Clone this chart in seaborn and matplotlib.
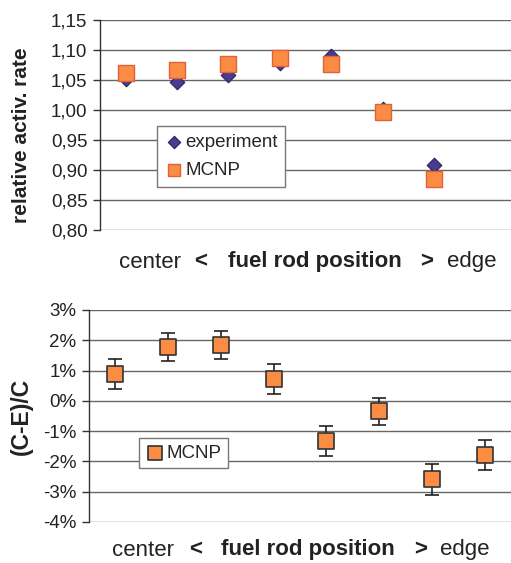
import matplotlib
matplotlib.use("Agg")
import matplotlib.pyplot as plt
import seaborn as sns
import pandas as pd
import numpy as np
from matplotlib.ticker import FuncFormatter

sns.set_theme(style="white")
plt.rcParams['font.family'] = ['Liberation Sans', 'DejaVu Sans']

# ---- data ----
pos_top = [0, 1, 2, 3, 4, 5, 6]
experiment = [1.051, 1.047, 1.058, 1.079, 1.090, 1.001, 0.908]
mcnp_top = [1.061, 1.066, 1.076, 1.086, 1.076, 0.996, 0.885]

pos_bot = [0, 1, 2, 3, 4, 5, 6, 7]
diff_pct = [0.88, 1.79, 1.85, 0.73, -1.32, -0.35, -2.59, -1.78]
diff_err = [0.50, 0.46, 0.46, 0.49, 0.50, 0.46, 0.51, 0.50]

top_ticks = [0.80, 0.85, 0.90, 0.95, 1.00, 1.05, 1.10, 1.15]
bot_ticks = [-4, -3, -2, -1, 0, 1, 2, 3]

ORANGE = "#FA8C44"
ORANGE_EDGE = "#E2603A"
PURPLE = "#4A3C8C"

W, H = 511, 563
fig = plt.figure(figsize=(W / 100, H / 100), dpi=100)

ax1 = fig.add_axes([100 / W, (H - 230) / H, 411 / W, 210 / H])
ax2 = fig.add_axes([89 / W, (H - 522) / H, 422 / W, 212 / H])

df_top = pd.DataFrame({"pos": pos_top * 2,
                       "val": experiment + mcnp_top,
                       "series": ["experiment"] * len(pos_top) + ["MCNP"] * len(pos_top)})

for ax in (ax1, ax2):
    ax.set_facecolor("white")
    for s in ("top", "right", "bottom"):
        ax.spines[s].set_visible(False)
    ax.spines["left"].set_color("#333333")
    ax.spines["left"].set_linewidth(1.0)
    ax.tick_params(axis="y", which="both", left=True, length=5, width=1.0,
                   color="#333333", labelsize=13.5, pad=4, labelcolor="#222222")
    ax.tick_params(axis="x", bottom=False, labelbottom=False)
    ax.set_xlim(-0.5, 7.5)

# top
ax1.set_ylim(0.80, 1.15)
ax1.set_yticks(top_ticks)
ax1.yaxis.set_major_formatter(FuncFormatter(lambda v, p: f"{v:.2f}".replace(".", ",")))
for t in top_ticks:
    ax1.axhline(t, color="#666666", lw=1.0, zorder=0)

sub_e = df_top[df_top.series == "experiment"]
sub_m = df_top[df_top.series == "MCNP"]
sns.scatterplot(data=sub_e, x="pos", y="val", ax=ax1, marker="D", s=55,
                color=PURPLE, edgecolor="#2a2060", linewidth=0.8, zorder=3,
                label="experiment", legend=False)
sns.scatterplot(data=sub_m, x="pos", y="val", ax=ax1, marker="s", s=120,
                color=ORANGE, edgecolor=ORANGE_EDGE, linewidth=1.0, zorder=4,
                label="MCNP", legend=False)
ax1.set_xlabel("")
ax1.set_ylabel("")
h, l = ax1.get_legend_handles_labels()
leg1 = ax1.legend(h, l, loc="upper left", bbox_to_anchor=(157 / W, 1 - 126 / H),
                  bbox_transform=fig.transFigure, fontsize=13.5, frameon=True,
                  fancybox=False, edgecolor="#777777", framealpha=1,
                  handletextpad=0.1, borderpad=0.4, labelspacing=0.6,
                  handlelength=1.0, borderaxespad=0, markerscale=0.85)
leg1.get_frame().set_linewidth(1.0)

# bottom
ax2.set_ylim(-4, 3)
ax2.set_yticks(bot_ticks)
ax2.yaxis.set_major_formatter(FuncFormatter(lambda v, p: f"{int(round(v))}%"))
for t in bot_ticks:
    ax2.axhline(t, color="#666666", lw=1.0, zorder=0)

df_bot = pd.DataFrame({"pos": pos_bot, "val": diff_pct, "err": diff_err})
ax2.errorbar(df_bot["pos"], df_bot["val"], yerr=df_bot["err"], fmt="none",
             ecolor="#222222", elinewidth=1.2, capsize=5, capthick=1.2, zorder=2)
sns.scatterplot(data=df_bot, x="pos", y="val", ax=ax2, marker="s", s=130,
                color=ORANGE, edgecolor="#333333", linewidth=1.2, zorder=4,
                label="MCNP", legend=False)
ax2.set_xlabel("")
ax2.set_ylabel("")
h2, l2 = ax2.get_legend_handles_labels()
leg2 = ax2.legend(h2, l2, loc="upper left", bbox_to_anchor=(139 / W, 1 - 438 / H),
                  bbox_transform=fig.transFigure, fontsize=13.5, frameon=True,
                  fancybox=False, edgecolor="#777777", framealpha=1,
                  handletextpad=0.1, borderpad=0.35, handlelength=1.0,
                  borderaxespad=0, markerscale=0.9)
leg2.get_frame().set_linewidth(1.0)

# y labels
fig.text(22 / W, 1 - 135 / H, "relative activ. rate", rotation=90, fontsize=15,
         fontweight="bold", ha="center", va="center", color="#222222")
fig.text(21 / W, 1 - 416 / H, "(C-E)/C", rotation=90, fontsize=16.5,
         fontweight="bold", ha="center", va="center", color="#222222")

# x labels
def xlab(y, parts):
    for x, txt, bold in parts:
        fig.text(x / W, 1 - y / H, txt, fontsize=16,
                 fontweight="bold" if bold else "normal",
                 ha="left", va="center", color="#222222")

xlab(262, [(119, "center", False), (194, "<", True), (228, "fuel rod position", True),
           (420, ">", True), (447, "edge", False)])
xlab(550, [(112, "center", False), (189, "<", True), (221, "fuel rod position", True),
           (414, ">", True), (440, "edge", False)])

fig.savefig("out.png", dpi=100, facecolor="white")
